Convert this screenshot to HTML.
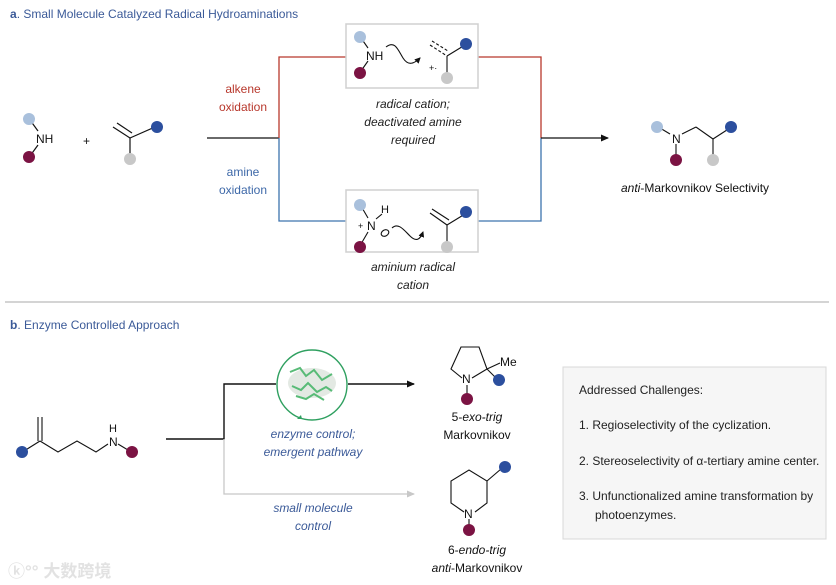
<!DOCTYPE html>
<html><head><meta charset="utf-8"><style>
html,body{margin:0;padding:0;background:#fff;}
svg{display:block;font-family:"Liberation Sans","Noto Sans CJK SC",sans-serif;}
</style></head><body>
<svg width="836" height="585" viewBox="0 0 836 585" xmlns="http://www.w3.org/2000/svg">
<defs>
<marker id="ak" markerWidth="8" markerHeight="8" refX="7" refY="4" orient="auto" markerUnits="userSpaceOnUse"><path d="M0,0.5 L8,4 L0,7.5 Z" fill="#111"/></marker>
<marker id="ag" markerWidth="8" markerHeight="8" refX="7" refY="4" orient="auto" markerUnits="userSpaceOnUse"><path d="M0,0.5 L8,4 L0,7.5 Z" fill="#c8c8c8"/></marker>
<marker id="as" markerWidth="6" markerHeight="6" refX="5" refY="3" orient="auto" markerUnits="userSpaceOnUse"><path d="M0,0 L6,3 L0,6 Z" fill="#111"/></marker>
</defs>
<!-- titles -->
<text x="10" y="18" font-size="12" fill="#3b5a98"><tspan font-weight="bold">a</tspan>. Small Molecule Catalyzed Radical Hydroaminations</text>
<line x1="5" y1="302" x2="829" y2="302" stroke="#bbb" stroke-width="1.3"/>
<text x="10" y="329" font-size="12" fill="#3b5a98"><tspan font-weight="bold">b</tspan>. Enzyme Controlled Approach</text>

<g stroke="#111" stroke-width="1.2" fill="none">
<!-- left amine -->
<line x1="30" y1="120" x2="38" y2="131"/><line x1="38" y1="145" x2="30" y2="156"/>
<!-- alkene -->
<line x1="113" y1="127" x2="130" y2="138"/><line x1="117" y1="123" x2="132" y2="133"/>
<line x1="130" y1="138" x2="155" y2="127"/><line x1="130" y1="138" x2="130" y2="158"/>
</g>
<circle cx="29" cy="119" r="6" fill="#a9c0dc"/><circle cx="29" cy="157" r="6" fill="#7b1343"/>
<text x="36" y="143" font-size="12" fill="#111">NH</text>
<text x="83" y="145" font-size="12" fill="#111">+</text>
<circle cx="157" cy="127" r="6" fill="#2c4f9e"/><circle cx="130" cy="159" r="6" fill="#c8c8c8"/>

<!-- pathways -->
<line x1="207" y1="138" x2="279" y2="138" stroke="#111" stroke-width="1.3"/>
<polyline points="279,138 279,57 346,57" fill="none" stroke="#b8382c" stroke-width="1.3"/>
<polyline points="478,57 541,57 541,138" fill="none" stroke="#b8382c" stroke-width="1.3"/>
<polyline points="279,138 279,221 346,221" fill="none" stroke="#3d73ad" stroke-width="1.3"/>
<polyline points="478,221 541,221 541,138" fill="none" stroke="#3d73ad" stroke-width="1.3"/>
<line x1="541" y1="138" x2="608" y2="138" stroke="#111" stroke-width="1.3" marker-end="url(#ak)"/>
<text x="243" y="93" font-size="12" fill="#b8382c" text-anchor="middle">alkene</text>
<text x="243" y="111" font-size="12" fill="#b8382c" text-anchor="middle">oxidation</text>
<text x="243" y="176" font-size="12" fill="#3d68a8" text-anchor="middle">amine</text>
<text x="243" y="194" font-size="12" fill="#3d68a8" text-anchor="middle">oxidation</text>

<!-- top box -->
<rect x="346" y="24" width="132" height="64" fill="#fff" stroke="#d0d0d0" stroke-width="1.5"/>
<g stroke="#111" stroke-width="1.1" fill="none">
<line x1="361" y1="38" x2="368" y2="48"/><line x1="368" y1="61" x2="361" y2="71"/>
<path d="M386,47 C395,40 398,50 403,58 C408,66 414,64 420,58" marker-end="url(#as)"/>
<line x1="430" y1="45" x2="447" y2="56" stroke-dasharray="3,2"/><line x1="432" y1="41" x2="448" y2="51" stroke-dasharray="3,2"/>
<line x1="447" y1="56" x2="465" y2="45"/><line x1="447" y1="56" x2="447" y2="75"/>
</g>
<circle cx="360" cy="37" r="6" fill="#a9c0dc"/><circle cx="360" cy="73" r="6" fill="#7b1343"/>
<text x="366" y="60" font-size="12" fill="#111">NH</text>
<text x="429" y="71" font-size="9" fill="#111">+·</text>
<circle cx="466" cy="44" r="6" fill="#2c4f9e"/><circle cx="447" cy="78" r="6" fill="#c8c8c8"/>
<g font-size="12" font-style="italic" fill="#222" text-anchor="middle">
<text x="413" y="108">radical cation;</text>
<text x="413" y="126">deactivated amine</text>
<text x="413" y="144">required</text>
<text x="413" y="271">aminium radical</text>
<text x="413" y="289">cation</text>
</g>

<!-- bottom box -->
<rect x="346" y="190" width="132" height="62" fill="#fff" stroke="#d0d0d0" stroke-width="1.5"/>
<g stroke="#111" stroke-width="1.1" fill="none">
<line x1="361" y1="206" x2="368" y2="218"/><line x1="368" y1="232" x2="361" y2="244"/>
<line x1="376" y1="219" x2="382" y2="214"/>
<ellipse cx="385" cy="233" rx="4" ry="3" transform="rotate(-30 385 233)"/>
<path d="M392,228 C398,222 404,230 410,236 C416,242 420,240 423,232" marker-end="url(#as)"/>
<line x1="430" y1="213" x2="447" y2="225"/><line x1="432" y1="209" x2="449" y2="220"/>
<line x1="447" y1="225" x2="465" y2="214"/><line x1="447" y1="225" x2="447" y2="244"/>
</g>
<circle cx="360" cy="205" r="6" fill="#a9c0dc"/><circle cx="360" cy="247" r="6" fill="#7b1343"/>
<text x="367" y="230" font-size="12" fill="#111">N</text>
<text x="358" y="229" font-size="9" fill="#111">+</text>
<text x="381" y="213" font-size="11" fill="#111">H</text>
<circle cx="466" cy="212" r="6" fill="#2c4f9e"/><circle cx="447" cy="247" r="6" fill="#c8c8c8"/>

<!-- product a -->
<g stroke="#111" stroke-width="1.1" fill="none">
<line x1="660" y1="128" x2="670" y2="134"/><line x1="676" y1="144" x2="676" y2="158"/>
<line x1="682" y1="134" x2="696" y2="127"/><line x1="696" y1="127" x2="713" y2="139"/>
<line x1="713" y1="139" x2="730" y2="128"/><line x1="713" y1="139" x2="713" y2="158"/>
</g>
<circle cx="657" cy="127" r="6" fill="#a9c0dc"/><circle cx="676" cy="160" r="6" fill="#7b1343"/>
<circle cx="731" cy="127" r="6" fill="#2c4f9e"/><circle cx="713" cy="160" r="6" fill="#c8c8c8"/>
<text x="672" y="143" font-size="12" fill="#111">N</text>
<text x="695" y="192" font-size="12" fill="#111" text-anchor="middle"><tspan font-style="italic">anti</tspan>-Markovnikov Selectivity</text>

<!-- substrate b -->
<g stroke="#111" stroke-width="1.1" fill="none">
<line x1="24" y1="451" x2="40" y2="441"/><line x1="38" y1="441" x2="38" y2="417"/><line x1="42" y1="441" x2="42" y2="417"/>
<polyline points="40,441 58,452 77,441 96,452 108,444"/>
<line x1="118" y1="444" x2="128" y2="450"/>
</g>
<circle cx="22" cy="452" r="6" fill="#2c4f9e"/><circle cx="132" cy="452" r="6" fill="#7b1343"/>
<text x="109" y="446" font-size="12" fill="#111">N</text>
<text x="109" y="432" font-size="11" fill="#111">H</text>

<!-- arrows b -->
<polyline points="166,439 224,439 224,384 276,384" fill="none" stroke="#111" stroke-width="1.4"/>
<line x1="348" y1="384" x2="414" y2="384" stroke="#111" stroke-width="1.4" marker-end="url(#ak)"/>
<polyline points="224,439 224,494 414,494" fill="none" stroke="#c8c8c8" stroke-width="1.3" marker-end="url(#ag)"/>
<circle cx="312" cy="385" r="35" fill="#fff" stroke="#2fa060" stroke-width="1.4"/>
<path d="M302,419 l-5,0 l4,-4 z" fill="#2fa060"/>
<g stroke="#3cb060" stroke-width="2" fill="none" opacity="0.85">
<ellipse cx="312" cy="383" rx="24" ry="15" fill="#dfe6df" stroke="none"/>
<path d="M290,372 l10,-4 l6,8 l8,-6 l8,10 l10,-6"/>
<path d="M292,386 l9,4 l7,-7 l9,9 l9,-5 l6,4"/>
<path d="M296,396 l10,3 l8,-5 l10,6"/>
</g>
<g font-size="12" font-style="italic" fill="#3b5a98" text-anchor="middle">
<text x="313" y="438">enzyme control;</text>
<text x="313" y="456">emergent pathway</text>
<text x="313" y="512">small molecule</text>
<text x="313" y="530">control</text>
</g>

<!-- pyrrolidine -->
<g stroke="#111" stroke-width="1.1" fill="none">
<polyline points="462,378 451,369 461,347 479,347 487,369 472,378"/>
<line x1="487" y1="369" x2="500" y2="363"/><line x1="487" y1="369" x2="497" y2="379"/>
<line x1="467" y1="385" x2="467" y2="396"/>
</g>
<text x="462" y="383" font-size="12" fill="#111">N</text>
<text x="500" y="366" font-size="12" fill="#111">Me</text>
<circle cx="499" cy="380" r="6" fill="#2c4f9e"/><circle cx="467" cy="399" r="6" fill="#7b1343"/>
<text x="477" y="421" font-size="12" fill="#111" text-anchor="middle">5-<tspan font-style="italic">exo-trig</tspan></text>
<text x="477" y="439" font-size="12" fill="#111" text-anchor="middle">Markovnikov</text>

<!-- piperidine -->
<g stroke="#111" stroke-width="1.1" fill="none">
<polyline points="464,512 451,503 451,481 469,470 487,481 487,503 475,512"/>
<line x1="487" y1="481" x2="501" y2="469"/>
<line x1="469" y1="519" x2="469" y2="526"/>
</g>
<text x="464" y="518" font-size="12" fill="#111">N</text>
<circle cx="505" cy="467" r="6" fill="#2c4f9e"/><circle cx="469" cy="530" r="6" fill="#7b1343"/>
<text x="477" y="554" font-size="12" fill="#111" text-anchor="middle">6-<tspan font-style="italic">endo-trig</tspan></text>
<text x="477" y="572" font-size="12" fill="#111" text-anchor="middle"><tspan font-style="italic">anti</tspan>-Markovnikov</text>

<!-- challenges box -->
<rect x="563" y="367" width="263" height="172" fill="#f6f6f6" stroke="#d8d8d8" stroke-width="1"/>
<g font-size="12" fill="#222">
<text x="579" y="394">Addressed Challenges:</text>
<text x="579" y="429">1. Regioselectivity of the cyclization.</text>
<text x="579" y="465">2. Stereoselectivity of α-tertiary amine center.</text>
<text x="579" y="500">3. Unfunctionalized amine transformation by</text>
<text x="595" y="519">photoenzymes.</text>
</g>

<!-- watermark -->
<text x="8" y="577" font-size="17" fill="#e2e2e2" font-weight="bold">ⓚ°° 大数跨境</text>
</svg>
</body></html>
